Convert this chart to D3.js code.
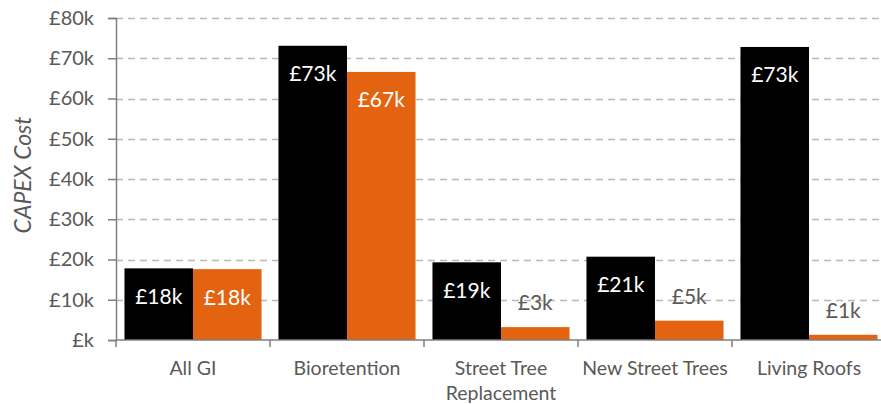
<!DOCTYPE html>
<html>
<head>
<meta charset="utf-8">
<script src="https://cdn.jsdelivr.net/npm/d3@7/dist/d3.min.js"></script>
<style>
  html, body { margin: 0; padding: 0; background: #fff; }
  svg { display: block; }
  text { font-family: Lato, "Open Sans", sans-serif; }
</style>
</head>
<body>
<svg id="chart" width="881" height="404"></svg>
<script>
// Green infrastructure capital cost per asset type (£k)
const categories = ["All GI", "Bioretention", "Street Tree Replacement", "New Street Trees", "Living Roofs"];
const categoryLines = [["All GI"], ["Bioretention"], ["Street Tree", "Replacement"], ["New Street Trees"], ["Living Roofs"]];
const seriesNames = ["Series A", "Series B"];
const seriesA = [17.8, 73.1, 19.3, 20.7, 72.8];
const seriesB = [17.6, 66.6, 3.2, 4.8, 1.3];
const valueLabelsA = ["£18k", "£73k", "£19k", "£21k", "£73k"];
const valueLabelsB = ["£18k", "£67k", "£3k", "£5k", "£1k"];
const yTicks = [0, 10, 20, 30, 40, 50, 60, 70, 80];
const yTickLabels = ["£k", "£10k", "£20k", "£30k", "£40k", "£50k", "£60k", "£70k", "£80k"];
const colors = ["#000000", "#E36311"];

const svg = d3.select("#chart");
const plot = { left: 116, right: 886, top: 18, bottom: 340 };

const x = d3.scaleBand().domain(categories).range([plot.left, plot.right]).paddingInner(0.11).paddingOuter(0.055);
const xs = d3.scaleBand().domain(seriesNames).range([0, x.bandwidth()]);
const y = d3.scaleLinear().domain([0, 80]).range([plot.bottom, plot.top]);

// dashed gridlines
svg.append("g")
  .selectAll("line")
  .data(yTicks.filter(d => d > 0))
  .join("line")
  .attr("x1", plot.left).attr("x2", 881)
  .attr("y1", d => Math.round(y(d)) + 0.5).attr("y2", d => Math.round(y(d)) + 0.5)
  .attr("stroke", "#b8b8b8").attr("stroke-width", 1.3)
  .attr("stroke-dasharray", "7,5");

// bars
const series = [seriesA, seriesB];
const labels = [valueLabelsA, valueLabelsB];
series.forEach((vals, si) => {
  svg.append("g")
    .selectAll("rect")
    .data(categories)
    .join("rect")
    .attr("x", c => x(c) + xs(seriesNames[si]))
    .attr("width", xs.bandwidth())
    .attr("y", (c, i) => y(vals[i]))
    .attr("height", (c, i) => plot.bottom - y(vals[i]))
    .attr("fill", colors[si]);
});

// value labels: inside the bar top when tall enough, above otherwise
series.forEach((vals, si) => {
  svg.append("g")
    .selectAll("text")
    .data(categories)
    .join("text")
    .attr("x", c => x(c) + xs(seriesNames[si]) + xs.bandwidth() / 2)
    .attr("y", (c, i) => vals[i] > 10 ? y(vals[i]) + 28 : y(vals[i]) - 24)
    .attr("dy", "0.35em")
    .attr("text-anchor", "middle")
    .attr("font-size", 21)
    .attr("fill", (c, i) => vals[i] > 10 ? "#ffffff" : "#595959")
    .text((c, i) => labels[si][i]);
});

// y axis
const yAxis = svg.append("g")
  .attr("transform", `translate(${plot.left},0)`)
  .call(d3.axisLeft(y).tickValues(yTicks).tickFormat((d, i) => yTickLabels[i]).tickSize(8).tickPadding(14));
yAxis.select(".domain").attr("stroke", "#7f7f7f").attr("stroke-width", 1.5);
yAxis.selectAll(".tick line").attr("stroke", "#7f7f7f").attr("stroke-width", 1.5);
yAxis.selectAll(".tick text").attr("font-size", 20).attr("fill", "#595959").attr("font-family", "Lato, sans-serif");

// x axis baseline with boundary ticks
svg.append("line")
  .attr("x1", plot.left).attr("x2", 881)
  .attr("y1", plot.bottom).attr("y2", plot.bottom)
  .attr("stroke", "#7f7f7f").attr("stroke-width", 1.5);
const step = x.step();
svg.append("g")
  .selectAll("line")
  .data(d3.range(categories.length + 1))
  .join("line")
  .attr("x1", i => plot.left + i * step).attr("x2", i => plot.left + i * step)
  .attr("y1", plot.bottom).attr("y2", plot.bottom + 7)
  .attr("stroke", "#7f7f7f").attr("stroke-width", 1.5);

// category labels
const catG = svg.append("g");
categories.forEach((c, i) => {
  const t = catG.append("text")
    .attr("x", x(c) + x.bandwidth() / 2)
    .attr("y", 368)
    .attr("text-anchor", "middle")
    .attr("font-size", 19.5)
    .attr("fill", "#595959");
  categoryLines[i].forEach((line, li) => {
    t.append("tspan")
      .attr("x", x(c) + x.bandwidth() / 2)
      .attr("dy", li === 0 ? "0.35em" : "1.3em")
      .text(line);
  });
});

// y axis title
svg.append("text")
  .attr("transform", "translate(23,175) rotate(-90)")
  .attr("text-anchor", "middle")
  .attr("dy", "0.35em")
  .attr("font-size", 23)
  .attr("font-style", "italic")
  .attr("fill", "#595959")
  .text("CAPEX Cost");
</script>
</body>
</html>
